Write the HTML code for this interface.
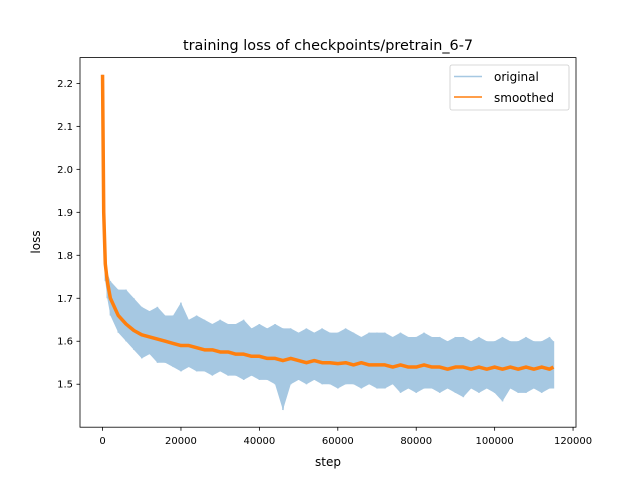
<!DOCTYPE html>
<html><head><meta charset="utf-8"><style>
body{margin:0;background:#fff}
svg text{font-family:"DejaVu Sans","Liberation Sans",sans-serif;fill:#000}
</style></head><body>
<svg id="chart" width="640" height="480" xmlns="http://www.w3.org/2000/svg">
<rect width="640" height="480" fill="#fff"/>
<g id="plot"></g>
<rect x="80" y="57.6" width="496" height="369.6" fill="none" stroke="#000" stroke-width="0.8"/>
<g id="ticks"></g>
<text x="328" y="50" font-size="14.4" text-anchor="middle">training loss of checkpoints/pretrain_6-7</text>
<text x="328" y="466" font-size="12" text-anchor="middle">step</text>
<text transform="translate(40,242) rotate(-90)" font-size="12" text-anchor="middle">loss</text>
<g>
<rect x="450" y="65" width="119" height="45" rx="2" fill="#fff" fill-opacity="0.8" stroke="#ccc" stroke-width="0.8"/>
<line x1="454" y1="76.5" x2="482" y2="76.5" stroke="#a6c8e2" stroke-width="1.5"/>
<text x="494" y="81" font-size="12">original</text>
<line x1="454" y1="97" x2="482" y2="97" stroke="#ff7f0e" stroke-width="1.5"/>
<text x="494" y="102" font-size="12">smoothed</text>
</g>
</svg>
<script>
const steps=[0,300,700,1200,
2000,4000,6000,8000,10000,12000,14000,16000,18000,20000,22000,24000,26000,28000,30000,32000,34000,36000,38000,40000,
42000,44000,46000,48000,50000,52000,54000,56000,58000,60000,62000,64000,66000,68000,70000,72000,74000,76000,78000,80000,
82000,84000,86000,88000,90000,92000,94000,96000,98000,100000,102000,104000,106000,108000,110000,112000,114000,115000];
const origHigh=[2.22,1.95,1.80,1.76,
1.74,1.72,1.72,1.70,1.68, 1.67,1.68,1.66,1.66,1.69, 1.65,1.66,1.65,1.64,1.65, 1.64,1.64,1.65,1.63,1.64,
1.63,1.64,1.63,1.63,1.62, 1.63,1.62,1.63,1.62,1.62, 1.63,1.62,1.61,1.62,1.62, 1.62,1.61,1.62,1.61,1.61,
1.62,1.61,1.61,1.60,1.61, 1.61,1.60,1.61,1.60,1.60, 1.61,1.60,1.60,1.61,1.60, 1.60,1.61,1.60];
const origLow=[2.22,1.85,1.74,1.70,
1.66,1.62,1.60,1.58,1.56, 1.57,1.55,1.55,1.54,1.53, 1.54,1.53,1.53,1.52,1.53, 1.52,1.52,1.51,1.52,1.51,
1.51,1.50,1.44,1.50,1.51, 1.50,1.51,1.50,1.50,1.49, 1.50,1.50,1.49,1.50,1.49, 1.49,1.50,1.48,1.49,1.48,
1.49,1.49,1.48,1.49,1.48, 1.47,1.49,1.48,1.49,1.48, 1.46,1.49,1.48,1.48,1.49, 1.48,1.49,1.49];
const smoothed=[2.22,1.90,1.78,1.74,
1.70,1.66,1.64,1.625,1.615, 1.61,1.605,1.60,1.595,1.59, 1.59,1.585,1.58,1.58,1.575, 1.575,1.57,1.57,1.565,1.565,
1.56,1.56,1.555,1.56,1.555, 1.55,1.555,1.55,1.55,1.548, 1.55,1.545,1.55,1.545,1.545, 1.545,1.54,1.545,1.54,1.54,
1.545,1.54,1.54,1.535,1.54, 1.54,1.535,1.54,1.535,1.54, 1.535,1.54,1.535,1.54,1.535, 1.54,1.535,1.54];
const xTicks=[0,20000,40000,60000,80000,100000,120000];
const yTicks=[1.5,1.6,1.7,1.8,1.9,2.0,2.1,2.2];

const X0=80,X1=576,Y0=57.6,Y1=427.2;
const xmin=-5750,xmax=120750,ymin=1.40,ymax=2.26;
const sx=v=>X0+(v-xmin)/(xmax-xmin)*(X1-X0);
const sy=v=>Y1-(v-ymin)/(ymax-ymin)*(Y1-Y0);
const NS="http://www.w3.org/2000/svg";
const plot=document.getElementById('plot'), ticks=document.getElementById('ticks');
const n=Math.min(steps.length,origHigh.length,origLow.length,smoothed.length);

let band=[];
for(let i=0;i<n;i++)band.push(sx(steps[i])+','+sy(origHigh[i]));
for(let i=n-1;i>=0;i--)band.push(sx(steps[i])+','+sy(origLow[i]));
const bp=document.createElementNS(NS,'polygon');


bp.setAttribute('points',band.join(' '));
bp.setAttribute('fill','#a6c8e2');
plot.appendChild(bp);

let zz=[];
for(let i=0;i<n;i++){zz.push(sx(steps[i])+','+sy(origHigh[i]));zz.push(sx(steps[i])+','+sy(origLow[i]));}
const op=document.createElementNS(NS,'polyline');


op.setAttribute('points',zz.join(' '));
op.setAttribute('fill','none');op.setAttribute('stroke','#a6c8e2');op.setAttribute('stroke-width','1.5');
plot.appendChild(op);

let sp=[];
for(let i=0;i<n;i++)sp.push(sx(steps[i])+','+sy(smoothed[i]));
const sl=document.createElementNS(NS,'polyline');


sl.setAttribute('points',sp.join(' '));
sl.setAttribute('fill','none');sl.setAttribute('stroke','#ff7f0e');sl.setAttribute('stroke-width','3.5');sl.setAttribute('stroke-linejoin','round');
plot.appendChild(sl);

xTicks.forEach(t=>{
  const x=sx(t);
  const l=document.createElementNS(NS,'line');
  
  
  l.setAttribute('x1',x);l.setAttribute('x2',x);l.setAttribute('y1',Y1);l.setAttribute('y2',Y1+3.5);
  l.setAttribute('stroke','#000');l.setAttribute('stroke-width','0.8');ticks.appendChild(l);
  const tx=document.createElementNS(NS,'text');
  
  
  tx.setAttribute('x',x);tx.setAttribute('y',Y1+17);tx.setAttribute('font-size','10');tx.setAttribute('text-anchor','middle');
  tx.textContent=String(t);ticks.appendChild(tx);
});
yTicks.forEach(t=>{
  const y=sy(t);
  const l=document.createElementNS(NS,'line');
  
  
  l.setAttribute('x1',X0-3.5);l.setAttribute('x2',X0);l.setAttribute('y1',y);l.setAttribute('y2',y);
  l.setAttribute('stroke','#000');l.setAttribute('stroke-width','0.8');ticks.appendChild(l);
  const tx=document.createElementNS(NS,'text');
  
  
  tx.setAttribute('x',X0-7);tx.setAttribute('y',y+3.5);tx.setAttribute('font-size','10');tx.setAttribute('text-anchor','end');
  tx.textContent=t.toFixed(1);ticks.appendChild(tx);
});
</script>
</body></html>
